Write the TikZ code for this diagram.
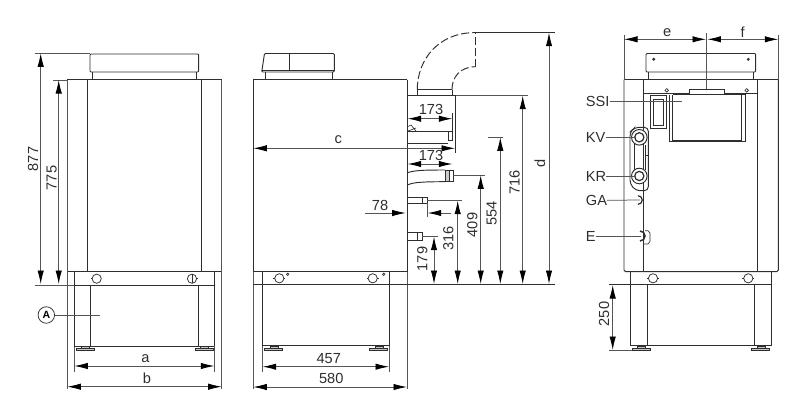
\documentclass[tikz,border=0pt]{standalone}
\usepackage{fontspec}
\setmainfont{Liberation Sans}
\usetikzlibrary{arrows.meta}
\definecolor{ink}{HTML}{2E2E2E}
\definecolor{dimc}{HTML}{555555}
\tikzset{
  outline/.style={draw=ink,line width=0.95pt},
  thin part/.style={draw=ink,line width=0.65pt},
  dimline/.style={draw=dimc,line width=0.75pt},
  measure/.style={draw=dimc,line width=0.8pt,{Latex[length=13.5pt,width=6.4pt,color=black]}-{Latex[length=13.5pt,width=6.4pt,color=black]}},
  oneway/.style={draw=dimc,line width=0.8pt,-{Latex[length=13.5pt,width=6.4pt,color=black]}},
  lab/.style={font=\fontsize{14.6pt}{15pt}\selectfont,text=ink,inner sep=0pt},
  vlab/.style={lab,rotate=90},
  tag/.style={lab,anchor=west},
  foot/.style={draw=ink,line width=0.7pt,fill=gray!45},
  hole/.style={draw=ink,line width=0.75pt,fill=white},
}
\begin{document}
\begin{tikzpicture}[x=1pt,y=-1pt]
\useasboundingbox (0,0) rectangle (800,418);
% ---------- FRONT VIEW ----------
\draw[outline,rounded corners=1pt] (90,54) -- (198.7,54) -- (198.7,72) -- (90,72) -- cycle;
\draw[outline] (92,72) -- (92,79.7) (196.7,72) -- (196.7,79.7);
\draw[outline] (67.3,79.7) -- (221.7,79.7);
\draw[outline] (87.3,79.7) -- (87.3,271.7) (201.7,79.7) -- (201.7,271.7);
\draw[outline] (67.3,271.7) -- (221.7,271.7);
\draw[dimline] (67.3,79.7) -- (67.3,389) (221.7,79.7) -- (221.7,389);
\draw[outline] (74.3,271.7) -- (74.3,346) (214.3,271.7) -- (214.3,346);
\draw[dimline] (74.3,346) -- (74.3,372) (214.3,346) -- (214.3,372);
\draw[outline] (90.7,285) -- (90.7,346) (198.3,285) -- (198.3,346);
\draw[outline] (74.3,346) -- (214.3,346);
\draw[outline] (74.3,285) -- (214.3,285);
\draw[foot] (76,348) rectangle (94.3,350.7) (195,348) rectangle (213,350.7);
\draw[foot] (81,346) rectangle (89,348) (200,346) rectangle (208,348);
\draw[hole] (96.7,278.7) circle (4.6);
\draw[thin part] (92.1,278.7) -- (90.8,278.7);
\draw[hole] (192,278.7) circle (4.6);
\draw[thin part] (192,274.1) -- (192,283.3) (196.6,278.7) -- (198,278.7);
% front dims
\draw[dimline] (35.3,53.3) -- (90,53.3) (53.3,80) -- (67.3,80) (35.3,285) -- (74.3,285);
\draw[measure] (40.7,53.3) -- (40.7,284);
\draw[measure] (58.7,80) -- (58.7,284);
\node[vlab] (d877) at (33.2,159) {877};
\node[vlab] (d775) at (51.6,178) {775};
\draw[measure] (74.3,366) -- (214.3,366);
\draw[measure] (67.3,386.7) -- (221.7,386.7);
\node[lab] (la) at (145.5,359) {a};
\node[lab] (lb) at (147,378.5) {b};
\node[draw=ink,line width=0.75pt,circle,minimum size=16.5pt,inner sep=0pt,font=\fontsize{10.5pt}{11pt}\selectfont\bfseries] (circA) at (46.3,315) {A};
\coordinate (Aend) at (100,315);
\draw[dimline] (circA) -- (Aend);
% ---------- SIDE VIEW ----------
\draw[outline,rounded corners=1pt] (264.5,53.5) -- (334.3,53.5) -- (334.3,72) -- (261.7,72) -- cycle;
\draw[outline] (289.3,53.5) -- (289.3,70);
\draw[outline] (261.7,70) -- (334.3,70);
\draw[outline] (265,72) -- (265,79.7) (332.7,72) -- (332.7,79.7);
\draw[outline] (253.3,79.7) -- (407,79.7);
\draw[outline] (253.3,271.7) -- (407,271.7);
\draw[outline] (253.3,79.7) -- (253.3,271.7) (407,79.7) -- (407,271.7);
\draw[dimline] (253.3,271.7) -- (253.3,389) (407,271.7) -- (407,389);
\draw[outline] (262.7,271.7) -- (262.7,345.7) (389,271.7) -- (389,345.7);
\draw[dimline] (262.7,345.7) -- (262.7,371.7) (389,345.7) -- (389,371.7);
\draw[outline] (262.7,345.7) -- (389,345.7);
\draw[foot] (264.3,348) rectangle (282.7,350.7) (369,348) rectangle (387.3,350.7);
\draw[foot] (270,346) rectangle (278,348) (375,346) rectangle (383,348);
\draw[outline] (253.3,284.7) -- (555,284.7);
\foreach \cx in {279.3,372.7}{
  \draw[hole] (\cx,278.3) circle (4.6);
  \draw[thin part] (\cx-6,278.3) -- (\cx-4.6,278.3) (\cx+4.6,278.3) -- (\cx+6,278.3);
}
\draw[thin part] (287.7,274.3) circle (1.2) (383.7,274.3) circle (1.2);
% flue
\draw[outline] (417.3,89.7) -- (452,89.7);
\draw[outline] (417.3,89.7) -- (417.3,95.7) (452,89.7) -- (452,95.7);
\draw[outline] (407,95.7) -- (455.7,95.7) -- (455.7,153);
\draw[outline,dash pattern=on 8pt off 3pt] (417.3,89.7) .. controls (417.3,58) and (440,33) .. (473.3,32.7);
\draw[outline,dash pattern=on 8pt off 3pt] (452,89.7) .. controls (452,77) and (460,67) .. (475.3,66.7);
\draw[outline,dash pattern=on 8pt off 3pt] (475.3,66.7) -- (475.3,32.7);
\draw[outline] (473.3,32.7) -- (555,32.7);
\draw[dimline] (455.7,95.7) -- (527.7,95.7);
% pipes
\draw[thin part] (452,113) -- (452,139.3);
\draw[outline] (407,131.7) -- (448.3,131.7) (407,143.3) -- (448.3,143.3);
\draw[outline,fill=white] (448.3,131.7) rectangle (452.7,140);
\draw[thin part] (408,126.5) -- (411,125) -- (416,131) (408,131) -- (416,128);
\draw[outline] (407,172.7) .. controls (415,170.5) and (420,170) .. (445,170);
\draw[outline] (407,185) .. controls (413,182.5) and (420,181.7) .. (445,181.7);
\draw[outline,fill=gray!40] (445,170) rectangle (449.5,181.7);
\draw[outline,fill=white] (449.5,170) rectangle (453.3,181.7);
\draw[outline] (407,197.5) -- (422.3,197.5) (407,203.3) -- (422.3,203.3);
\draw[outline,fill=white] (422.3,197.5) rectangle (427.3,203.3);
\draw[outline] (407,232.7) -- (417.7,232.7) (407,240) -- (417.7,240);
\draw[outline,fill=white] (417.7,232.7) rectangle (422,240);
% side dims
\draw[dimline] (488,137.3) -- (503,137.3) (453.3,175.3) -- (485,175.3) (427.3,200.7) -- (461.7,200.7) (422,236.7) -- (438,236.7);
\draw[measure] (549,32.7) -- (549,284);
\draw[measure] (522.7,95.7) -- (522.7,284);
\draw[measure] (500.3,137.3) -- (500.3,284);
\draw[measure] (480.7,175.3) -- (480.7,284);
\draw[measure] (457.7,200.7) -- (457.7,284);
\draw[measure] (434,236.7) -- (434,284);
\node[vlab] (ld) at (540,163) {d};
\node[vlab] (d716) at (514.5,182.7) {716};
\node[vlab] (d554) at (491.7,213.3) {554};
\node[vlab] (d409) at (472.3,225) {409};
\node[vlab] (d316) at (448.3,238.3) {316};
\node[vlab] (d179) at (422.3,259) {179};
\draw[measure] (407.7,118.7) -- (452.3,118.7);
\draw[measure] (407.7,164) -- (452.3,164);
\node[lab] (a173) at (431,109.5) {173};
\node[lab] (b173) at (431,155.3) {173};
\draw[measure] (253.3,148.3) -- (455,148.3);
\node[lab] (lc) at (338.3,139.5) {c};
\coordinate (s78) at (365,213);
\coordinate (e78) at (405.7,213);
\coordinate (s78b) at (450.7,213);
\coordinate (e78b) at (427.7,213);
\draw[oneway] (s78) -- (e78);
\draw[oneway] (s78b) -- (e78b);
\draw[dimline] (427.3,203) -- (427.3,216.7);
\node[lab] (l78) at (380,205) {78};
\draw[measure] (262.7,366.7) -- (389,366.7);
\draw[measure] (253.3,387) -- (407,387);
\node[lab] (d457) at (328.7,358.5) {457};
\node[lab] (d580) at (331.3,378.5) {580};
% ---------- REAR VIEW ----------
\draw[outline,rounded corners=1pt] (646,53.5) -- (755.7,53.5) -- (755.7,72) -- (646,72) -- cycle;
\draw[outline] (648.3,72) -- (648.3,79.7) (753.3,72) -- (753.3,79.7);
\fill[ink] (653.7,59.3) circle (1.6) (748.3,59.3) circle (1.6);
\draw[outline] (624,79.7) -- (778.3,79.7);
\draw[dimline] (624,34.7) -- (624,79.7) (778.3,34.7) -- (778.3,79.7);
\draw[outline] (624,79.7) -- (624,270) -- (625.5,271.7) -- (776.8,271.7) -- (778.3,270) -- (778.3,79.7);
\draw[outline] (643.3,79.7) -- (643.3,271.7);
\draw[outline,line width=1.3pt] (757.7,79.7) -- (757.7,271.7);
\draw[dimline] (706.7,33.3) -- (706.7,89.7);
\draw[measure] (624,39.3) -- (706,39.3);
\draw[measure] (707.4,39.3) -- (778.3,39.3);
\node[lab] (le) at (667.3,32.7) {e};
\node[lab] (lf) at (742.7,32.7) {f};
\draw[thin part] (643.3,93.3) -- (757.7,93.3);
\draw[outline,fill=white] (689,89.7) rectangle (724,94.7);
\draw[thin part,fill=white] (666.7,90.3) circle (1.8) (746.7,90.3) circle (1.8);
\draw[outline] (669.3,94.7) -- (669.3,141.7) -- (745,141.7) -- (745,94.7) -- (672.7,94.7);
\draw[thin part] (672.7,94.7) -- (672.7,140) -- (741,140) -- (741,94.7);
\draw[outline] (650.7,95) -- (666,95) -- (666,128) -- (650.7,128) -- cycle;
\draw[thin part] (653.5,99) rectangle (663.5,125);
% connections
\draw[outline,rounded corners=4pt] (648.3,127.3) -- (635,127.3) -- (630,132) -- (630,184) -- (636,190.7) -- (648.3,190.7) -- cycle;
\draw[thin part] (634,143) -- (634,172);
\draw[thin part] (645,145) -- (645,170) (645,155) -- (648.3,155);
\foreach \cy in {137.3,176}{
  \draw[outline,fill=white] (639.3,\cy) circle (7.8);
  \draw[outline,line width=1.2pt,fill=white] (639.3,\cy) circle (4.6);
}
\draw[outline,line width=1.2pt] (638,195.7) arc (-90:90:4.3);
\draw[outline,line width=1.5pt] (640,231) arc (-90:90:5);
\draw[thin part] (645,230.7) -- (648,230.7) -- (650,233) -- (650,241.5) -- (648,244) -- (644,244);
% tags
\node[tag] (ssi) at (585.7,101.7) {SSI};
\node[tag] (kv) at (585.7,137.3) {KV};
\node[tag] (kr) at (585.7,176) {KR};
\node[tag] (ga) at (585.7,200.3) {GA};
\node[tag] (ee) at (585.7,236) {E};
\coordinate (pSSI) at (681.7,101.7);
\coordinate (pKV) at (636,137.3);
\coordinate (pKR) at (636,176);
\coordinate (pGA) at (640,200);
\coordinate (pE) at (641,236);
\draw[dimline] (ssi.east) -- (pSSI);
\draw[dimline] (kv.east) -- (pKV);
\draw[dimline] (kr.east) -- (pKR);
\draw[dimline] (ga.east) -- (pGA);
\draw[dimline] (ee.east) -- (pE);
% stand
\draw[outline] (630.7,271.7) -- (630.7,345.7) (771,271.7) -- (771,345.7);
\draw[outline] (647,284.7) -- (647,345.7) (754.7,284.7) -- (754.7,345.7);
\draw[outline] (630.7,345.7) -- (771,345.7);
\draw[outline] (609,284.7) -- (771,284.7);
\draw[foot] (632.3,348) rectangle (650.7,350.7) (751.3,348) rectangle (769.7,350.7);
\draw[foot] (637,346) rectangle (645,348) (757,346) rectangle (765,348);
\foreach \cx in {653,748.3}{
  \draw[hole] (\cx,278.3) circle (4.6);
  \draw[thin part] (\cx-6,278.3) -- (\cx-4.6,278.3) (\cx+4.6,278.3) -- (\cx+6,278.3);
}
\draw[dimline] (609,350.3) -- (632.3,350.3);
\draw[measure] (612.7,285) -- (612.7,350);
\node[vlab] (d250) at (604,314) {250};
\end{tikzpicture}
\end{document}
